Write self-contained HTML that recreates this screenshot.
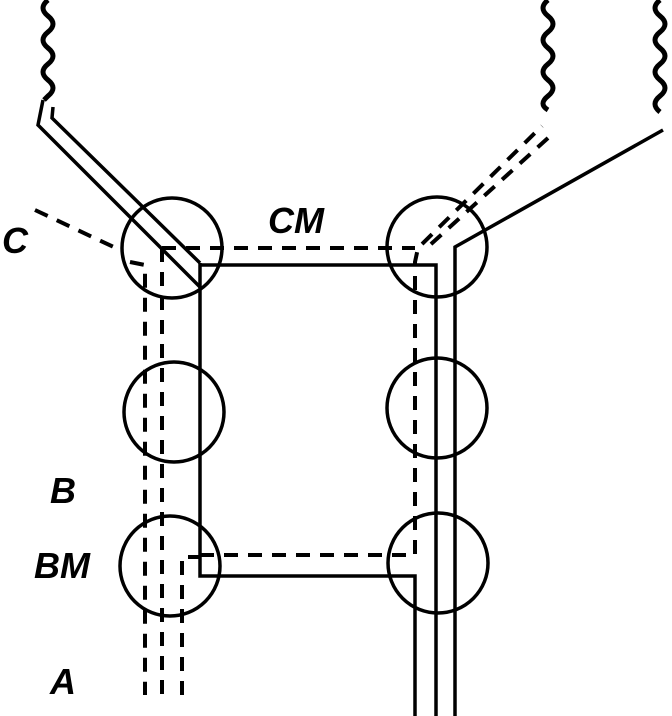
<!DOCTYPE html>
<html><head><style>body{margin:0;background:#fff}svg{display:block}text{font-family:"Liberation Sans",sans-serif;font-weight:bold;font-style:italic;font-size:36px;fill:#000}</style></head><body>
<svg width="672" height="716" viewBox="0 0 672 716" fill="none" stroke="#000" stroke-width="3.5">
<g stroke-width="5">
<path d="M48 0 q-10 8 0 16 q10 8 0 16 q-10 8 0 16 q10 8 0 16 q-10 8 0 16 q10 8 0 16 l-4 4"/>
<path d="M548 0 q-10 8 0 16 q10 8 0 16 q-10 8 0 16 q10 8 0 16 q-10 8 0 16 q10 8 0 16 q-10 8 0 14"/>
<path d="M660 0 q-10 8 0 16 q10 8 0 16 q-10 8 0 16 q10 8 0 16 q-10 8 0 16 q10 8 0 16 q-10 8 0 16"/>
</g>
<circle cx="172" cy="248" r="50"/><circle cx="174" cy="412" r="50"/><circle cx="170" cy="566" r="50"/>
<circle cx="437" cy="247" r="50"/><circle cx="437" cy="408" r="50"/><circle cx="438" cy="563" r="50"/>
<path d="M43 100 L38 125 L200 287 M53 107 L52 118 L200 263"/>
<path d="M200 263 L200 576 L415 576 L415 716"/>
<path d="M200 265 L436 265 L436 716"/>
<path d="M663 130 L455 247 L455 716"/>
<g stroke-dasharray="14 10" stroke-width="4">
<path d="M35 210 L120 250"/>
<path d="M162 248 L415 248"/>
<path d="M162 248 L162 695"/>
<path d="M130 262 L145 265 L145 695"/>
<path d="M182 695 L182 557 L200 557"/>
<path d="M200 555 L415 555 L415 262 L418 248 L542 126"/>
<path d="M548 138 L430 245"/>
</g>
<text x="2" y="253" stroke="none">C</text>
<text x="268" y="233" stroke="none">CM</text>
<text x="50" y="503" stroke="none">B</text>
<text x="34" y="578" stroke="none">BM</text>
<text x="50" y="694" stroke="none">A</text>
</svg>
</body></html>
